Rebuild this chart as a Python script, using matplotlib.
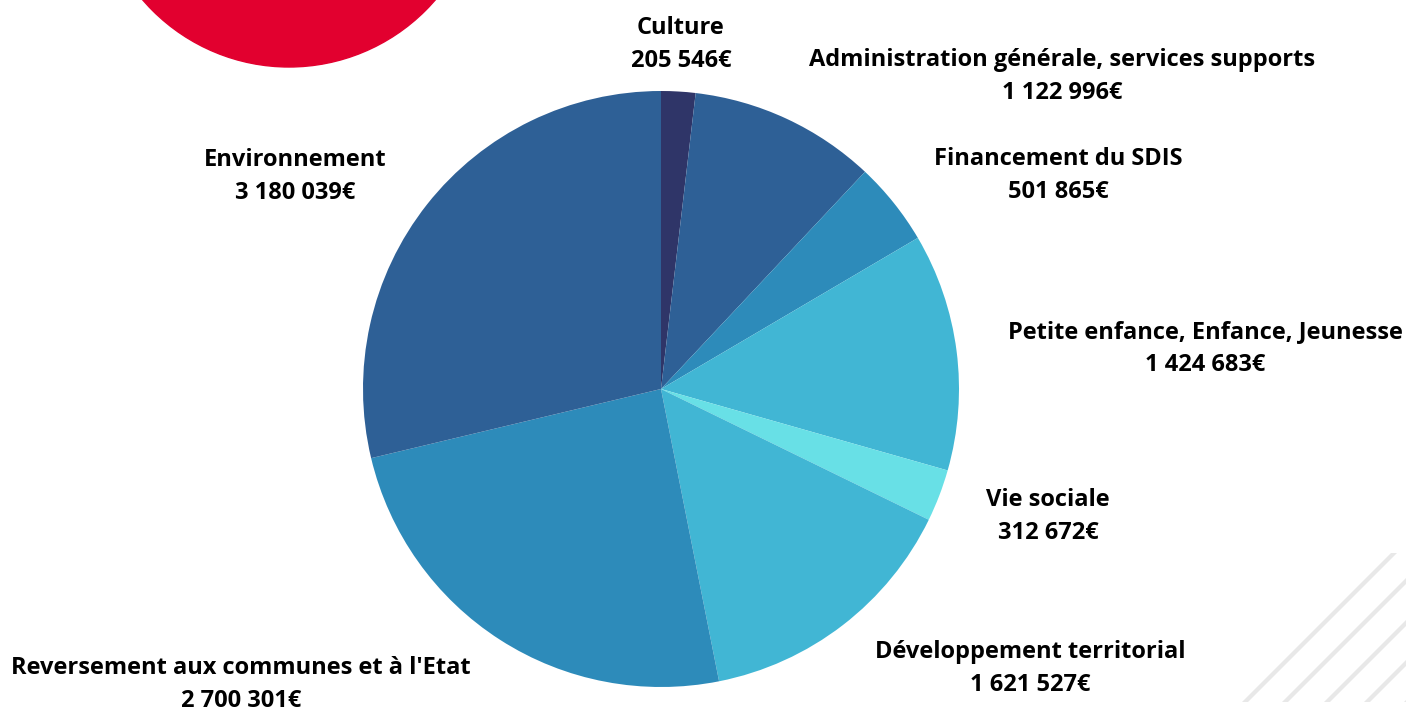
import matplotlib.pyplot as plt
from matplotlib.patches import Circle

# data
categories = ["Culture", "Administration générale, services supports", "Financement du SDIS",
              "Petite enfance, Enfance, Jeunesse", "Vie sociale", "Développement territorial",
              "Reversement aux communes et à l'Etat", "Environnement"]
values = [205546, 1122996, 501865, 1424683, 312672, 1621527, 2700301, 3180039]
value_labels = ["205 546€", "1 122 996€", "501 865€", "1 424 683€", "312 672€",
                "1 621 527€", "2 700 301€", "3 180 039€"]
colors = ["#2f3568", "#2e6096", "#2d8bba", "#41b6d4", "#68e0e6", "#41b6d4", "#2d8bba", "#2e6096"]

# label anchor (x, y of first line) in pixels from top-left
label_pos = [(681, 28), (1062, 60), (1058, 159), (1205, 332), (1048, 500),
             (1030, 652), (241, 668), (295, 160)]

W, H = 1406, 709
plt.rcParams['font.family'] = ['Open Sans', 'DejaVu Sans']

fig = plt.figure(figsize=(W / 100, H / 100), dpi=100)
ax = fig.add_axes([0, 0, 1, 1])

# red circle decoration top-left
ax.add_patch(Circle((289, H + 126), 193, color="#e2002f", zorder=1))

# light diagonal stripes bottom-right
stripes = [1947, 1987, 2029, 2069, 2109]
for i, c in enumerate(stripes):
    y_bot = 702
    y_top = 553 if i == 0 else c - W - 3
    xs = [c - y_bot - 3, c - y_bot + 3, c - y_top + 3, c - y_top - 3]
    ys = [H - y_bot, H - y_bot, H - y_top, H - y_top]
    ax.fill(xs, ys, color="#e8e8e8", lw=0, zorder=0)

ax.pie(values, colors=colors, startangle=90, counterclock=False,
       center=(661, H - 389), radius=298, frame=True,
       wedgeprops=dict(linewidth=0))
ax.set_xlim(0, W)
ax.set_ylim(0, H)
ax.set_aspect('equal')
ax.axis('off')

for name, val, (x, y) in zip(categories, value_labels, label_pos):
    ax.text(x, H - y, name, ha='center', va='center', fontsize=17, fontweight='bold', color='black')
    ax.text(x, H - y - 33, val, ha='center', va='center', fontsize=17, fontweight='bold', color='black')

fig.savefig("out.png", dpi=100)
